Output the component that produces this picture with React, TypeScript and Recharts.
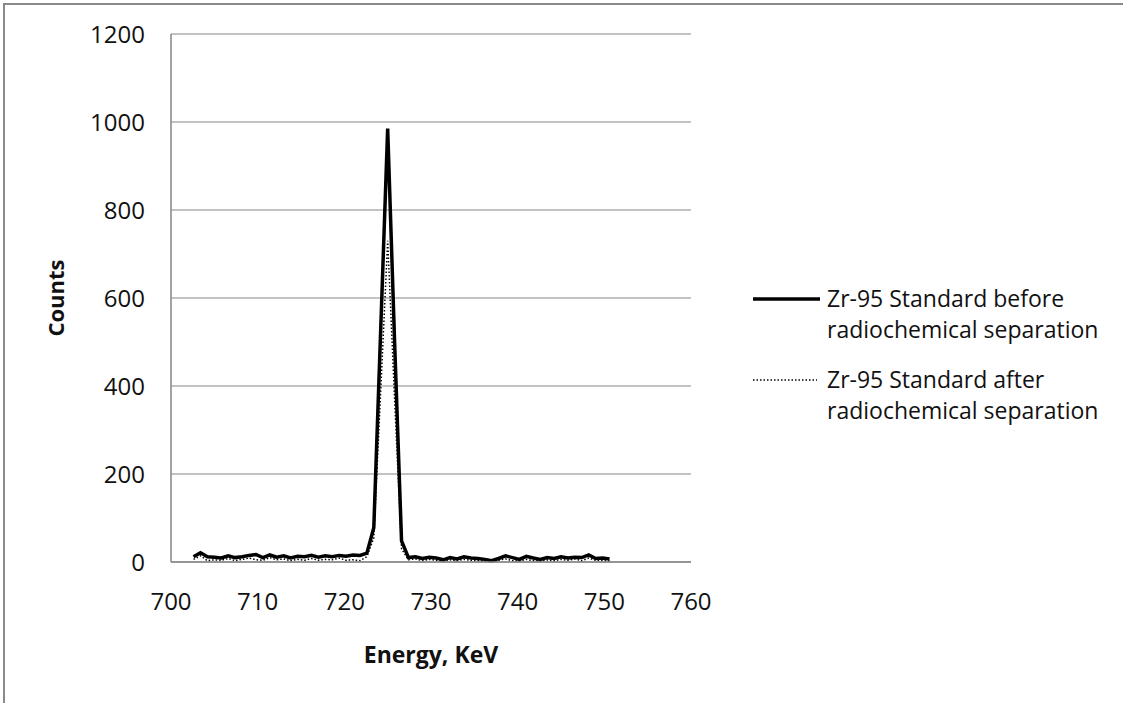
import { LineChart, Line, XAxis, YAxis, CartesianGrid } from 'recharts'

// energy channels, keV
const energy = [
  702.6, 703.4, 704.2, 705.0, 705.8, 706.6, 707.4, 708.2, 709.0, 709.8,
  710.6, 711.4, 712.2, 713.0, 713.8, 714.6, 715.4, 716.2, 717.0, 717.8,
  718.6, 719.4, 720.2, 721.0, 721.8, 722.6, 723.4, 724.2, 725.0, 725.8,
  726.6, 727.4, 728.2, 729.0, 729.8, 730.6, 731.4, 732.2, 733.0, 733.8,
  734.6, 735.4, 736.2, 737.0, 737.8, 738.6, 739.4, 740.2, 741.0, 741.8,
  742.6, 743.4, 744.2, 745.0, 745.8, 746.6, 747.4, 748.2, 749.0, 749.8,
  750.6,
]

const beforeCounts = [
  12, 21, 12, 11, 9, 14, 10, 12, 15, 17,
  10, 16, 11, 14, 9, 13, 12, 15, 11, 14,
  12, 15, 13, 16, 15, 20, 78, 530, 985, 500,
  48, 10, 12, 8, 11, 9, 5, 10, 7, 12,
  9, 8, 6, 3, 8, 14, 10, 6, 13, 9,
  6, 10, 8, 12, 9, 11, 10, 16, 8, 9,
  7,
]

const afterCounts = [
  6, 14, 3, 5, 4, 8, 3, 6, 9, 5,
  4, 10, 5, 7, 3, 6, 4, 8, 4, 6,
  5, 9, 4, 5, 3, 12, 55, 390, 730, 370,
  30, 5, 7, 3, 6, 4, 2, 5, 3, 6,
  4, 3, 2, 1, 4, 7, 3, 2, 6, 3,
  2, 5, 3, 6, 4, 7, 3, 9, 4, 3,
  2,
]

const xTicks = [700, 710, 720, 730, 740, 750, 760]
const yTicks = [0, 200, 400, 600, 800, 1000, 1200]
const seriesNames = [
  'Zr-95 Standard before radiochemical separation',
  'Zr-95 Standard after radiochemical separation',
]

const data = energy.map((e, i) => ({
  energy: e,
  before: beforeCounts[i],
  after: afterCounts[i],
}))

const gray = '#868686'
const textColor = '#111'
const font = '"Open Sans", sans-serif'

function LegendBox() {
  return (
    <div style={{ position: 'absolute', left: 753, top: 283, color: textColor, fontSize: 23, lineHeight: '31px' }}>
      {seriesNames.map((name, i) => (
        <div key={name} style={{ display: 'flex', alignItems: 'flex-start', marginBottom: 19 }}>
          <svg width={74} height={31} style={{ flex: 'none' }}>
            <line
              x1={0}
              x2={i === 0 ? 67 : 64}
              y1={16}
              y2={16}
              stroke="#000"
              strokeWidth={i === 0 ? 3.5 : 1.5}
              strokeDasharray={i === 0 ? undefined : '1.5 2'}
            />
          </svg>
          <div style={{ width: 300 }}>{name}</div>
        </div>
      ))}
    </div>
  )
}

export default function App() {
  return (
    <div
      style={{
        position: 'absolute',
        left: 0,
        top: 0,
        width: 1123,
        height: 703,
        overflow: 'hidden',
        background: '#fff',
        fontFamily: font,
      }}
    >
      <div
        style={{
          position: 'absolute',
          left: 3,
          top: 3,
          width: 1140,
          height: 720,
          border: '2px solid #8a8a8a',
        }}
      />
      <LineChart
        width={1123}
        height={703}
        data={data}
        margin={{ top: 34, right: 432, bottom: 0, left: 0 }}
      >
        <CartesianGrid vertical={false} stroke={gray} strokeWidth={1} />
        <XAxis
          type="number"
          dataKey="energy"
          domain={[700, 760]}
          ticks={xTicks}
          interval={0}
          height={141}
          axisLine={{ stroke: gray, strokeWidth: 1.5 }}
          tickLine={false}
          tickSize={0}
          tickMargin={31}
          tick={{ fontSize: 24, fill: textColor }}
          label={{
            value: 'Energy, KeV',
            position: 'insideBottom',
            offset: 40,
            style: { fontSize: 23, fontWeight: 700, fill: textColor },
          }}
        />
        <YAxis
          type="number"
          domain={[0, 1200]}
          ticks={yTicks}
          interval={0}
          width={171}
          axisLine={{ stroke: gray, strokeWidth: 1.5 }}
          tickLine={false}
          tickSize={0}
          tickMargin={26}
          tick={{ fontSize: 24, fill: textColor }}
          label={{
            value: 'Counts',
            angle: -90,
            position: 'insideLeft',
            offset: 56,
            style: { textAnchor: 'middle', fontSize: 22, fontWeight: 700, fill: textColor },
          }}
        />
        <Line
          type="linear"
          dataKey="before"
          name={seriesNames[0]}
          stroke="#000"
          strokeWidth={3.5}
          dot={false}
          isAnimationActive={false}
        />
        <Line
          type="linear"
          dataKey="after"
          name={seriesNames[1]}
          stroke="#000"
          strokeWidth={1.5}
          strokeDasharray="1.5 2"
          dot={false}
          isAnimationActive={false}
        />
      </LineChart>
      <LegendBox />
    </div>
  )
}
